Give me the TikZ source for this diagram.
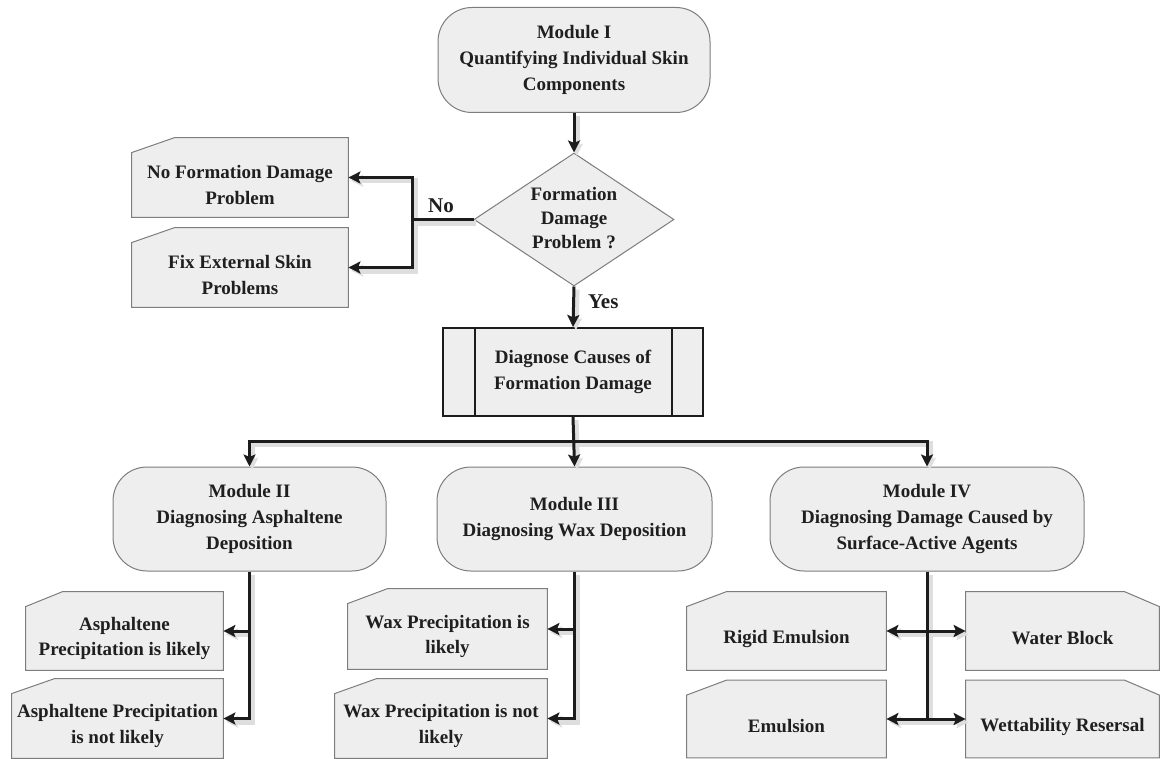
\documentclass[tikz,border=0pt]{standalone}
\usepackage{fontspec}
\setmainfont{Liberation Serif}
\usetikzlibrary{shapes.geometric,arrows.meta,calc}
\pgfdeclarelayer{bg}
\pgfsetlayers{bg,main}
\definecolor{boxfill}{RGB}{238,238,238}
\definecolor{boxline}{RGB}{125,125,125}
\definecolor{connc}{RGB}{28,28,28}
\tikzset{
  txt/.style={font=\fontsize{9.5}{12.8}\selectfont\bfseries, align=center, text=black!88},
  module/.style={txt, draw=boxline, fill=boxfill, rounded corners=17pt, line width=0.5pt, inner sep=0pt},
  cardtxt/.style={txt, inner sep=0pt},
  cardframe/.style={draw=boxline, fill=boxfill, line width=0.5pt},
  tip/.tip={Stealth[length=6pt,width=6pt,inset=1.2pt]},
  shad/.style={draw=black!13, line width=2.8pt, transform canvas={xshift=1.4pt,yshift=-1.6pt}},
  solid/.style={draw=connc, line width=1.5pt},
}
\newcommand\myconnectors{%
  \draw[cl, -tip] (m1.south) -- (dia.north);
  \draw[cl, -tip] (dia.west) -- (jn) |- (nofde);
  \draw[cl, -tip] (jn) |- (fixe);
  \draw[cl, -tip] (dia.south) -- (diag.north);
  \draw[cl, -tip] (diag.south) -- (m3.north);
  \draw[cl, -tip] (hub) -| (m2.north);
  \draw[cl, -tip] (hub) -| (m4.north);
  \draw[cl, -tip] (m2.south) |- (a2e);
  \draw[cl, -tip] (m2.south |- a1e) -- (a1e);
  \draw[cl, -tip] (m3.south) |- (w2e);
  \draw[cl, -tip] (m3.south |- w1e) -- (w1e);
  \draw[cl] (m4.south) -- (m4.south |- eme);
  \draw[cl, tip-tip] (r1e) -- (wbw);
  \draw[cl, tip-tip] (eme) -- (wrw);
}
\begin{document}
\begin{tikzpicture}[x=0.5pt,y=-0.5pt]
\useasboundingbox (0,0) rectangle (1160,759);

% Modules
\node[module, minimum width=136pt, minimum height=52.5pt] (m1) at (574,60)
  {Module I\\Quantifying Individual Skin\\Components};
\node[diamond, draw=boxline, fill=boxfill, line width=0.5pt, inner sep=0pt,
      minimum width=100pt, minimum height=66.5pt] (dia) at (574,219.5) {};
\node[txt, font=\fontsize{9.5}{11.8}\selectfont\bfseries] (diat) at (574,218) {Formation\\Damage\\Problem ?};

\node[txt, draw=connc, line width=1pt, fill=boxfill, minimum width=130pt, minimum height=44pt, inner sep=0pt]
  (diag) at (573,372) {Diagnose Causes of\\Formation Damage};
\draw[connc, line width=1pt] ([xshift=16.5pt]diag.north west) -- ([xshift=16.5pt]diag.south west);
\draw[connc, line width=1pt] ([xshift=-16pt]diag.north east) -- ([xshift=-16pt]diag.south east);

\node[module, minimum width=136.5pt, minimum height=52pt] (m2) at (249.5,519)
  {Module II\\Diagnosing Asphaltene\\Deposition};
\node[module, minimum width=137.5pt, minimum height=52pt] (m3) at (574.5,519)
  {Module III\\Diagnosing Wax Deposition};
\node[module, minimum width=157pt, minimum height=52pt] (m4) at (927,519)
  {Module IV\\Diagnosing Damage Caused by\\Surface-Active Agents};

% Cards (text nodes; frames on background layer)
\node[cardtxt, minimum width=108pt, minimum height=32pt] (nofd) at (240,185) {No Formation Damage\\Problem};
\node[cardtxt, minimum width=108pt, minimum height=32pt] (fix) at (240,275) {Fix External Skin\\Problems};
\node[cardtxt, minimum width=98.5pt, minimum height=31.5pt] (a1) at (124.5,638.5) {Asphaltene\\Precipitation is likely};
\node[cardtxt, minimum width=105.5pt, minimum height=32pt] (a2) at (117.5,726) {Asphaltene Precipitation\\is not likely};
\node[cardtxt, minimum width=99.5pt, minimum height=32.5pt] (w1) at (447.5,636.5) {Wax Precipitation is\\likely};
\node[cardtxt, minimum width=106pt, minimum height=32pt] (w2) at (441,726) {Wax Precipitation is not\\likely};
\node[cardtxt, minimum width=99.5pt, minimum height=31.5pt] (r1) at (786.5,638.5) {Rigid Emulsion};
\node[cardtxt, minimum width=99.5pt, minimum height=31pt] (em) at (786.5,726.5) {Emulsion};
\node[cardtxt, minimum width=96.5pt, minimum height=31.5pt] (wb) at (1062.5,638.5) {Water Block};
\node[cardtxt, minimum width=96.5pt, minimum height=31pt] (wr) at (1062.5,726.5) {Wettability Resersal};

\begin{pgfonlayer}{bg}
  \foreach \n/\c in {nofd/21.5pt, fix/21.5pt, a1/18.5pt, a2/21.5pt, w1/20pt, w2/21pt, r1/20pt, em/20pt}{
    \path[cardframe] (\n.south west) -- (\n.north west) -- ([xshift=\c,yshift=7.5pt]\n.north west)
      -- ([yshift=7.5pt]\n.north east) -- (\n.south east) -- cycle;
  }
  \foreach \n in {wb, wr}{
    \path[cardframe] (\n.south west) -- ([yshift=7.5pt]\n.north west)
      -- ([xshift=-17.5pt,yshift=7.5pt]\n.north east) -- (\n.north east) -- (\n.south east) -- cycle;
  }
\end{pgfonlayer}

% Connector coordinates
\coordinate (jn) at (412,219.5);
\coordinate (hub) at (574,441);
\coordinate (nofde) at ([yshift=3.75pt]nofd.east);
\coordinate (fixe) at ([yshift=3.75pt]fix.east);
\coordinate (a1e) at ([yshift=3.75pt]a1.east);
\coordinate (a2e) at ([yshift=3.75pt]a2.east);
\coordinate (w1e) at ([yshift=3.75pt]w1.east);
\coordinate (w2e) at ([yshift=3.75pt]w2.east);
\coordinate (r1e) at ([yshift=3.75pt]r1.east);
\coordinate (eme) at ([yshift=3.75pt]em.east);
\coordinate (wbw) at ([yshift=3.75pt]wb.west);
\coordinate (wrw) at ([yshift=3.75pt]wr.west);

% Connectors: shadows first, then solid lines
\begin{scope}[cl/.style={shad}]
  \myconnectors
\end{scope}
\begin{scope}[cl/.style={solid}]
  \myconnectors
\end{scope}

% Labels
\node[txt, font=\fontsize{10.5}{12}\selectfont\bfseries] (nolab) at (441,206) {No};
\node[txt, font=\fontsize{10.5}{12}\selectfont\bfseries, anchor=west] (yeslab) at (581,302) {Yes};
\end{tikzpicture}
\end{document}
